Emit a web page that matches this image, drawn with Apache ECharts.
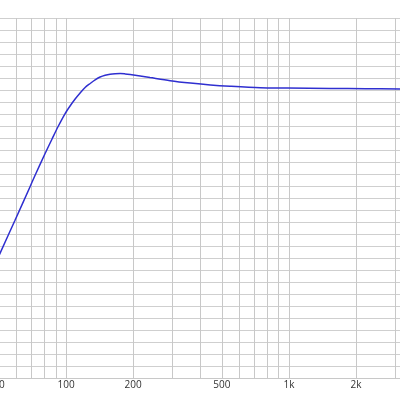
<!DOCTYPE html>
<html>
<head>
<meta charset="utf-8">
<script src="https://cdn.jsdelivr.net/npm/echarts@6/dist/echarts.min.js"></script>
<style>
html,body{margin:0;padding:0;background:#fff;}
#c{width:400px;height:400px;}
</style>
</head>
<body>
<div id="c"></div>
<script>
// Frequency (Hz) and response level (grid divisions)
const freqs = [50, 59, 69, 72.6, 80.5, 86.5, 92.1, 99, 104.2, 109.8, 115.6, 121.7, 128.2, 135, 142.1, 149.7, 157.6, 166, 174.8, 184.1, 193.9, 215, 238, 293, 361, 444, 545, 744, 984, 1535, 2204, 3166];
const levels = [10.2, 13.15, 15.96, 16.9, 18.71, 19.92, 20.96, 22.04, 22.67, 23.25, 23.75, 24.21, 24.54, 24.85, 25.08, 25.23, 25.32, 25.36, 25.37, 25.34, 25.29, 25.17, 25.04, 24.78, 24.58, 24.42, 24.31, 24.19, 24.17, 24.13, 24.11, 24.08];
const gridFreqs = [50, 60, 70, 80, 90, 100, 200, 300, 400, 500, 600, 700, 800, 900, 1000, 2000, 3000];
const labelFreqs = [50, 100, 200, 500, 1000, 2000];
const labelTexts = ['50', '100', '200', '500', '1k', '2k'];

const lg = Math.log10;
const data = freqs.map((f, i) => [lg(f), levels[i]]);
const labelMap = {};
labelFreqs.forEach((f, i) => { labelMap[lg(f).toFixed(6)] = labelTexts[i]; });

const chart = echarts.init(document.getElementById('c'), null, {renderer: 'canvas'});
chart.setOption({
  animation: false,
  backgroundColor: '#ffffff',
  grid: {left: -1, right: 0, top: 18, bottom: 22, containLabel: false, outerBoundsMode: 'none'},
  xAxis: {
    type: 'value',
    min: lg(50),
    max: lg(3150),
    axisLine: {show: true, lineStyle: {color: '#c8c8c8', width: 1}},
    axisTick: {show: false, customValues: gridFreqs.map(lg)},
    axisLabel: {
      show: true,
      customValues: labelFreqs.map(lg),
      margin: 2,
      fontSize: 10,
      fontFamily: 'Open Sans',
      color: '#333333',
      hideOverlap: false,
      showMinLabel: true,
      formatter: v => labelMap[v.toFixed(6)] || ''
    },
    splitLine: {show: true, lineStyle: {color: '#c8c8c8', width: 1}}
  },
  yAxis: {
    type: 'value',
    min: 0,
    max: 30,
    interval: 1,
    axisLine: {show: false},
    axisTick: {show: false},
    axisLabel: {show: false},
    splitLine: {show: true, lineStyle: {color: '#cfcfcf', width: 1}}
  },
  series: [{
    type: 'line',
    data: data,
    smooth: 0.3,
    showSymbol: false,
    lineStyle: {color: '#2f2fd0', width: 1.5},
    clip: true
  }]
});
</script>
</body>
</html>
